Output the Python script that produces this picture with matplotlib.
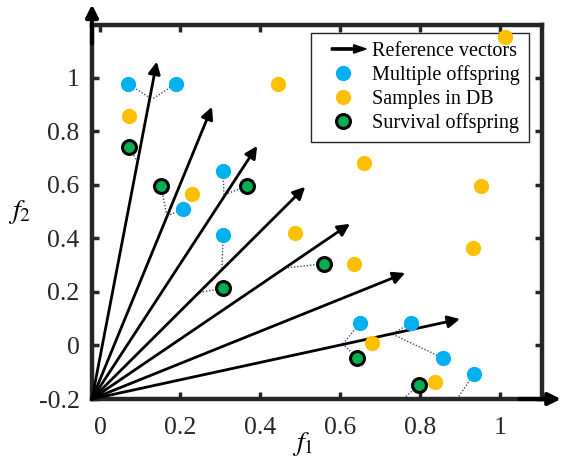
import matplotlib
matplotlib.use('Agg')
import matplotlib.pyplot as plt
import matplotlib.patches as mpatches
from matplotlib.lines import Line2D
from matplotlib.legend_handler import HandlerPatch, HandlerLine2D

plt.rcParams['font.family'] = ['Liberation Serif', 'DejaVu Serif']
plt.rcParams['mathtext.fontset'] = 'stix'
plt.rcParams['axes.unicode_minus'] = False

# reference vectors (tips), all start from the lower left corner
vec_x = [0.142, 0.28, 0.393, 0.513, 0.625, 0.763, 0.90]
vec_y = [1.061, 0.892, 0.746, 0.593, 0.455, 0.271, 0.099]
origin = (-0.02, -0.2)

blue_x = [0.07, 0.19, 0.2075, 0.3075, 0.3075, 0.65, 0.7775, 0.8575, 0.935]
blue_y = [0.978, 0.978, 0.51, 0.652, 0.413, 0.084, 0.084, -0.047, -0.107]

yellow_x = [0.0725, 0.23, 0.445, 0.4875, 1.0125, 0.66, 0.9525, 0.635, 0.9325, 0.68, 0.8375]
yellow_y = [0.858, 0.566, 0.978, 0.42, 1.153, 0.682, 0.596, 0.305, 0.364, 0.009, -0.136]

green_x = [0.0725, 0.1525, 0.3675, 0.3075, 0.56, 0.6425, 0.7975]
green_y = [0.742, 0.596, 0.596, 0.215, 0.305, -0.047, -0.148]

# dotted links from offspring to their projection on a vector
link_x0 = [0.07, 0.19, 0.0725, 0.1525, 0.2075, 0.3075, 0.3675, 0.3075, 0.3075, 0.56, 0.65, 0.6425, 0.7775, 0.8575, 0.935, 0.7975]
link_y0 = [0.978, 0.978, 0.742, 0.596, 0.51, 0.652, 0.596, 0.413, 0.215, 0.305, 0.084, -0.047, 0.084, -0.047, -0.107, -0.148]
link_x1 = [0.13, 0.13, 0.0925, 0.1675, 0.1675, 0.31, 0.31, 0.305, 0.2425, 0.4625, 0.6075, 0.6075, 0.73, 0.73, 0.8925, 0.7575]
link_y1 = [0.921, 0.921, 0.69, 0.484, 0.484, 0.563, 0.563, 0.29, 0.196, 0.29, 0.006, 0.006, 0.043, 0.043, -0.2, -0.2]

xticks = [0, 0.2, 0.4, 0.6, 0.8, 1]
xticklabels = ['0', '0.2', '0.4', '0.6', '0.8', '1']
yticks = [-0.2, 0, 0.2, 0.4, 0.6, 0.8, 1]
yticklabels = ['-0.2', '0', '0.2', '0.4', '0.6', '0.8', '1']

BLUE = '#00b0f0'
YELLOW = '#ffc000'
GREEN = '#00b050'
DARK = '#262626'

fig = plt.figure(figsize=(5.63, 4.62), dpi=100)
ax = fig.add_axes([92/563, 1-399/462, 450/563, 374/462])
ax.set_xlim(-0.02, 1.105)
ax.set_ylim(-0.2, 1.198)

for sp in ax.spines.values():
    sp.set_linewidth(3.2)
    sp.set_color(DARK)

ax.tick_params(direction='in', top=True, right=True, length=5, width=2.5,
               color=DARK, labelsize=18.5, labelcolor=DARK)
ax.tick_params(axis='y', pad=9)
ax.tick_params(axis='x', pad=13)
ax.set_xticks(xticks)
ax.set_xticklabels(xticklabels)
ax.set_yticks(yticks)
ax.set_yticklabels(yticklabels)

# axis arrows sticking out of the frame
ax.annotate('', xy=(0, 1.055), xytext=(0, 0.95), xycoords='axes fraction',
            arrowprops=dict(arrowstyle='-|>', lw=3, color='black', mutation_scale=18,
                            shrinkA=0, shrinkB=0), annotation_clip=False)
ax.annotate('', xy=(1.042, 0), xytext=(0.95, 0), xycoords='axes fraction',
            arrowprops=dict(arrowstyle='-|>', lw=3, color='black', mutation_scale=18,
                            shrinkA=0, shrinkB=0), annotation_clip=False)

for x0, y0, x1, y1 in zip(link_x0, link_y0, link_x1, link_y1):
    ax.plot([x0, x1], [y0, y1], color='#2f4f8f', lw=1, ls=(0, (1, 1.3)), zorder=2)

for vx, vy in zip(vec_x, vec_y):
    ax.annotate('', xy=(vx, vy), xytext=origin,
                arrowprops=dict(arrowstyle='-|>', lw=2, color='black', mutation_scale=18,
                                shrinkA=0, shrinkB=0), zorder=3)

ax.plot(blue_x, blue_y, 'o', ms=11, color=BLUE, mec=BLUE, mew=0, ls='none', zorder=6)
ax.plot(yellow_x, yellow_y, 'o', ms=11, color=YELLOW, mec=YELLOW, mew=0, ls='none', zorder=6)
ax.plot(green_x, green_y, 'o', ms=10, color=GREEN, mec='black', mew=2.2, ls='none', zorder=6)

ax.text(-0.16, 0.5, '$f_2$', transform=ax.transAxes, fontsize=20, ha='center', va='center')
ax.text(0.469, -0.12, '$f_1$', transform=ax.transAxes, fontsize=20, ha='center', va='center')


def make_arrow(legend, orig_handle, xdescent, ydescent, width, height, fontsize):
    return mpatches.FancyArrow(0.25*width - xdescent, 0.5*height - ydescent, 0.75*width, 0,
                               width=1.6, head_width=6, head_length=9,
                               length_includes_head=True, color='black')


class ShiftedLine(HandlerLine2D):
    def get_xdata(self, legend, xdescent, ydescent, width, height, fontsize):
        xd, xm = super().get_xdata(legend, xdescent, ydescent, width, height, fontsize)
        return xd, [x + 0.12*width for x in xm]


arrow_h = mpatches.FancyArrow(0, 0, 1, 0, color='black')
blue_h = Line2D([], [], marker='o', ls='none', ms=11, color=BLUE, mew=0)
yellow_h = Line2D([], [], marker='o', ls='none', ms=11, color=YELLOW, mew=0)
green_h = Line2D([], [], marker='o', ls='none', ms=10, color=GREEN, mec='black', mew=2.2)

leg = ax.legend([arrow_h, blue_h, yellow_h, green_h],
                ['Reference vectors', 'Multiple offspring', 'Samples in DB', 'Survival offspring'],
                handler_map={mpatches.FancyArrow: HandlerPatch(patch_func=make_arrow),
                             Line2D: ShiftedLine()},
                loc='upper right', bbox_to_anchor=(0.971, 0.979), fontsize=14.5,
                handlelength=2.3, handletextpad=0.3, labelspacing=0.22,
                borderpad=0.45, borderaxespad=0, fancybox=False, framealpha=1,
                edgecolor=DARK)
leg.get_frame().set_linewidth(1)
leg.set_zorder(5)

fig.savefig('out.png', dpi=100)
